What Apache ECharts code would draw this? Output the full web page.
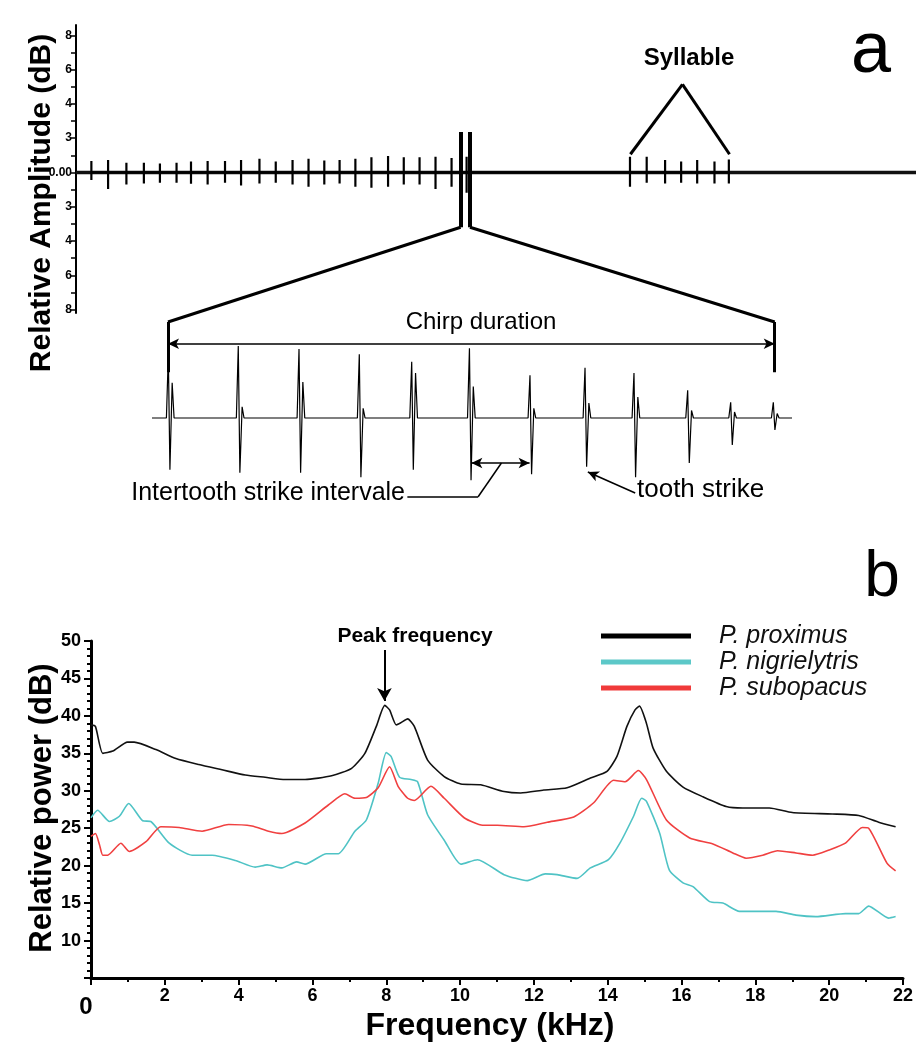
<!DOCTYPE html>
<html>
<head>
<meta charset="utf-8">
<title>chirp figure</title>
<script src="https://cdn.jsdelivr.net/npm/echarts@6/dist/echarts.min.js"></script>
<style>
  html,body{margin:0;padding:0;background:#fff;}
  #main{width:916px;height:1046px;}
</style>
</head>
<body>
<div id="main"></div>
<script>
// ---- panel a : overview oscillogram (time in arbitrary units, amplitude in axis steps)
var strikeT    = [1.83,3.82,6.0,8.08,9.99,11.97,13.69,15.67,17.74,19.65,21.84,23.78,25.78,27.68,29.56,31.38,33.26,35.17,37.15,39.02,40.9,42.8,44.71,46.5];
var strikeUp   = [0.33,0.36,0.28,0.28,0.26,0.28,0.32,0.33,0.33,0.36,0.40,0.32,0.36,0.40,0.35,0.36,0.40,0.44,0.48,0.44,0.44,0.46,0.42,0.46];
var strikeDown = [0.22,0.48,0.35,0.32,0.30,0.30,0.33,0.35,0.30,0.38,0.32,0.30,0.35,0.42,0.35,0.32,0.42,0.45,0.42,0.35,0.35,0.48,0.42,0.59];
var sylT    = [65.95,67.94,70.13,72.04,73.95,76.01,77.72];
var sylUp   = [0.46,0.46,0.36,0.32,0.36,0.32,0.38];
var sylDown = [0.42,0.30,0.32,0.30,0.32,0.32,0.32];
var ampLabels = ['8','6','4','3','0.00','3','4','6','8'];
var ampLabelVals = [-4,-3,-2,-1,0,1,2,3,4];
var ampTickVals = [-4,-3.5,-3,-2.5,-2,-1.5,-1,-0.5,0,0.5,1,1.5,2,2.5,3,3.5,4];

// ---- panel a : one chirp, enlarged
var chirpT   = [2.55,13.48,22.97,32.39,40.58,49.6,59.06,67.66,75.31,83.7,90.42,97.08];
var chirpTop = [0.84,0.96,0.92,0.85,0.75,0.93,0.57,0.67,0.6,0.37,0.21,0.21];
var chirpBot = [-0.69,-0.73,-0.73,-0.79,-0.69,-0.83,-0.75,-0.65,-0.79,-0.6,-0.36,-0.16];
var chirpRing = [0.47,0.15,0.48,0.13,0.6,0.42,0.13,0.2,0.28,0.1,0.08,0.06];

// ---- panel b : spectra
var freqBlack = [0,0.12,0.32,0.59,0.99,1.17,1.76,2.3,2.92,3.55,4.18,4.72,5.26,5.8,6.52,7.06,7.42,7.73,7.96,8.09,8.27,8.4,8.58,8.76,9.12,9.57,10.02,10.56,11.19,11.64,12.27,12.9,13.53,13.98,14.25,14.52,14.74,14.86,15.05,15.23,15.59,16.04,16.58,17.21,17.66,18.38,19.0,20.08,20.8,21.34,21.8];
var powBlack  = [38.8,38.6,35.0,35.3,36.5,36.5,35.5,34.3,33.5,32.8,32.1,31.8,31.5,31.5,32.0,33.0,35.0,38.6,41.4,40.8,38.8,39.1,39.6,38.6,34.1,31.9,30.9,30.8,29.9,29.7,30.1,30.4,31.7,32.6,34.6,38.6,40.8,41.3,39.0,35.7,32.6,30.5,29.2,27.9,27.7,27.7,27.1,26.9,26.7,25.8,25.2];
var freqCyan = [0,0.18,0.5,0.77,1.02,1.4,1.62,2.12,2.74,3.28,3.91,4.45,4.77,5.17,5.57,5.8,6.38,6.7,7.15,7.46,7.78,8.0,8.13,8.36,8.67,8.85,9.12,9.57,10.02,10.47,11.19,11.82,12.31,12.63,13.17,13.53,14.02,14.33,14.7,14.92,15.05,15.41,15.67,16.04,16.31,16.76,17.12,17.57,18.56,19.1,19.64,20.44,20.8,21.07,21.61,21.8];
var powCyan  = [26.4,27.4,25.9,26.6,28.3,26.0,25.9,23.0,21.4,21.4,20.7,19.8,20.1,19.7,20.5,20.2,21.6,21.6,24.6,26.1,31.0,35.1,34.6,31.8,31.5,31.2,26.8,23.4,20.2,20.8,18.8,18.0,18.9,18.8,18.3,19.7,20.8,23.0,26.6,29.0,28.6,24.3,19.4,17.7,17.2,15.2,15.0,13.9,13.9,13.4,13.2,13.6,13.6,14.6,13.0,13.2];
var freqRed = [0,0.12,0.23,0.32,0.45,0.81,1.04,1.49,1.89,2.39,3.01,3.73,4.36,4.81,5.17,5.8,6.43,6.88,7.15,7.46,7.78,8.09,8.32,8.58,8.76,9.21,9.57,10.11,10.61,11.01,11.73,12.36,13.08,13.62,14.16,14.47,14.83,15.05,15.59,16.22,16.85,17.39,17.75,18.2,18.6,19.1,19.55,20.0,20.44,20.9,21.07,21.57,21.8];
var powRed  = [23.9,24.3,22.8,21.4,21.4,23.0,21.9,23.2,25.2,25.1,24.6,25.5,25.3,24.6,24.3,25.7,28.1,29.6,29.0,29.1,30.4,33.2,30.6,29.0,28.7,30.6,29.0,26.4,25.4,25.4,25.2,25.8,26.5,28.4,31.4,31.2,32.7,31.5,26.1,23.7,22.9,21.7,21.0,21.4,22.0,21.7,21.4,22.1,23.0,25.1,25.0,20.3,19.3];
var speciesNames = ['P. proximus','P. nigrielytris','P. subopacus'];

function pairs(xs, ys){
    return xs.map(function(x,i){ return [x, ys[i]]; });
}

// spikes as vertical strokes over the baseline
var overviewData = [];
function addStrikes(ts, ups, downs){
    for (var i = 0; i < ts.length; i++) {
        overviewData.push([ts[i],0],[ts[i],ups[i]],[ts[i],-downs[i]],[ts[i],0]);
    }
}
addStrikes(strikeT, strikeUp, strikeDown);
addStrikes(sylT, sylUp, sylDown);

var chirpData = [[0,0]];
for (var i = 0; i < chirpT.length; i++) {
    var t = chirpT[i];
    chirpData.push([t-0.3,0],[t,chirpTop[i]],[t+0.25,chirpBot[i]],[t+0.6,chirpRing[i]],[t+0.9,0]);
}
chirpData.push([100,0]);

var FONT = 'Liberation Sans, Arial, sans-serif';
var NARROW = 'Liberation Sans Narrow, Liberation Sans, Arial, sans-serif';

function seg(a, b, extra){
    var s = [{coord:a},{coord:b}];
    if (extra) { s[0] = Object.assign({}, s[0], extra[0]); s[1] = Object.assign({}, s[1], extra[1]); }
    return s;
}

var myChart = echarts.init(document.getElementById('main'), null, {renderer:'canvas'});

var option = {
    animation: false,
    backgroundColor: '#fff',
    grid: [
        {left: 76, top: 25, width: 840, height: 288},
        {left: 152, top: 313, width: 640, height: 195},
        {left: 91, top: 641, width: 816, height: 337}
    ],
    xAxis: [
        {gridIndex:0, type:'value', min:0, max:100, show:false},
        {gridIndex:1, type:'value', min:0, max:100, show:false},
        {gridIndex:2, type:'value', min:0, max:22, interval:2,
            axisLine:{show:true, onZero:false, lineStyle:{color:'#000', width:3}},
            axisTick:{show:true, length:7, lineStyle:{color:'#000', width:2}},
            minorTick:{show:true, splitNumber:2, length:4, lineStyle:{color:'#000', width:2}},
            splitLine:{show:false},
            axisLabel:{color:'#000', fontFamily:NARROW, fontWeight:'bold', fontSize:18, margin:9,
                showMinLabel:true, showMaxLabel:true,
                formatter:function(v){ return v === 0 ? '{z|0}' : String(v); },
                rich:{z:{fontSize:24, fontWeight:'bold', fontFamily:FONT, color:'#000', padding:[8,10,0,0]}}}
        }
    ],
    yAxis: [
        {gridIndex:0, type:'value', min:-4.1, max:4.3,
            axisLine:{show:true, lineStyle:{color:'#000', width:2}},
            axisTick:{show:true, length:5, customValues:ampTickVals, lineStyle:{color:'#000', width:1.5}},
            splitLine:{show:false},
            axisLabel:{customValues:ampLabelVals, color:'#000', fontFamily:NARROW, fontWeight:'bold', fontSize:12, margin:4,
                formatter:function(v){ return ampLabels[Math.round(v)+4]; }}
        },
        {gridIndex:1, type:'value', min:-1.2, max:1.4, show:false},
        {gridIndex:2, type:'value', min:5, max:50, interval:5,
            axisLine:{show:true, onZero:false, lineStyle:{color:'#000', width:3}},
            axisTick:{show:true, length:7, lineStyle:{color:'#000', width:2}},
            minorTick:{show:true, splitNumber:5, length:4, lineStyle:{color:'#000', width:2}},
            splitLine:{show:false},
            axisLabel:{color:'#000', fontFamily:NARROW, fontWeight:'bold', fontSize:18, margin:10,
                formatter:function(v){ return v === 5 ? '' : String(v); }}
        }
    ],
    legend: {
        data: speciesNames,
        orient: 'vertical',
        left: 596, top: 618,
        itemWidth: 90, itemHeight: 5, itemGap: 0,
        icon: 'rect',
        selectedMode: false,
        textStyle:{fontFamily:FONT, fontStyle:'italic', fontSize:25, color:'#111', lineHeight:26, padding:[0,0,0,23]}
    },
    series: [
        {   // baseline of the overview trace
            type:'line', xAxisIndex:0, yAxisIndex:0, data:[[0,0],[100,0]],
            showSymbol:false, silent:true, lineStyle:{color:'#111', width:3.5}
        },
        {
            type:'line', xAxisIndex:0, yAxisIndex:0, data:overviewData,
            showSymbol:false, silent:true, lineStyle:{color:'#000', width:2.2},
            markLine:{
                silent:true, symbol:'none', animation:false, label:{show:false},
                lineStyle:{color:'#000', type:'solid', width:4},
                data:[
                    seg([45.79,1.18],[45.79,-1.6]),
                    seg([46.9,1.18],[46.9,-1.6]),
                    seg([66.0,0.53],[72.2,2.57], [{lineStyle:{width:3}},{}]),
                    seg([72.2,2.57],[77.8,0.53], [{lineStyle:{width:3}},{}])
                ]
            }
        },
        {
            type:'line', xAxisIndex:1, yAxisIndex:1, data:chirpData,
            showSymbol:false, silent:true, lineStyle:{color:'#000', width:1.2},
            markLine:{
                silent:true, symbol:'none', symbolSize:[8,11], animation:false, label:{show:false},
                lineStyle:{color:'#000', type:'solid', width:1.5},
                data:[
                    seg([2.5,1.28],[2.5,0.61], [{lineStyle:{width:3}},{}]),
                    seg([97.3,1.28],[97.3,0.61], [{lineStyle:{width:3}},{}]),
                    seg([2.5,0.99],[97.3,0.99], [{symbol:'arrow'},{symbol:'arrow'}]),
                    seg([49.9,-0.6],[59.0,-0.6], [{symbol:'arrow'},{symbol:'arrow'}]),
                    seg([54.6,-0.6],[50.96,-1.05]),
                    seg([50.96,-1.05],[39.9,-1.05]),
                    seg([75.5,-1.0],[68.1,-0.72], [{symbol:'none'},{symbol:'arrow'}])
                ]
            }
        },
        {
            name:speciesNames[0], type:'line', xAxisIndex:2, yAxisIndex:2,
            data:pairs(freqBlack, powBlack), showSymbol:false, smooth:0.2, color:'#000',
            lineStyle:{color:'#111', width:1.6},
            markLine:{
                silent:true, symbol:['none','arrow'], symbolSize:[11,13], animation:false, label:{show:false},
                lineStyle:{color:'#000', type:'solid', width:2},
                data:[ seg([7.95,48.8],[7.95,42.0]) ]
            }
        },
        {
            name:speciesNames[1], type:'line', xAxisIndex:2, yAxisIndex:2,
            data:pairs(freqCyan, powCyan), showSymbol:false, smooth:0.2, color:'#5cc8c8',
            lineStyle:{color:'#4fc3c5', width:1.6}
        },
        {
            name:speciesNames[2], type:'line', xAxisIndex:2, yAxisIndex:2,
            data:pairs(freqRed, powRed), showSymbol:false, smooth:0.2, color:'#f03a3a',
            lineStyle:{color:'#f04040', width:1.6}
        }
    ]
};
myChart.setOption(option);

// annotations: zoom lines from the overview to the enlarged chirp, and texts
var pA1 = myChart.convertToPixel({xAxisIndex:0, yAxisIndex:0}, [45.79,-1.6]);
var pA2 = myChart.convertToPixel({xAxisIndex:0, yAxisIndex:0}, [46.9,-1.6]);
var pB1 = myChart.convertToPixel({xAxisIndex:1, yAxisIndex:1}, [2.5,1.28]);
var pB2 = myChart.convertToPixel({xAxisIndex:1, yAxisIndex:1}, [97.3,1.28]);

function txt(x, y, s, font, align){
    return {type:'text', x:x, y:y, silent:true,
        style:{text:s, font:font, fill:'#000', align:align || 'center', verticalAlign:'middle'}};
}

myChart.setOption({
    graphic: [
        {type:'line', silent:true, shape:{x1:pA1[0], y1:pA1[1], x2:pB1[0], y2:pB1[1]}, style:{stroke:'#000', lineWidth:3}},
        {type:'line', silent:true, shape:{x1:pA2[0], y1:pA2[1], x2:pB2[0], y2:pB2[1]}, style:{stroke:'#000', lineWidth:3}},
        txt(871, 52, 'a', '72px ' + FONT),
        txt(882, 578, 'b', '64px ' + FONT),
        txt(689, 58, 'Syllable', 'bold 24px ' + FONT),
        txt(481, 322, 'Chirp duration', '24px ' + FONT),
        txt(405, 493, 'Intertooth strike intervale', '25px ' + FONT, 'right'),
        txt(637, 490, 'tooth strike', '26px ' + FONT, 'left'),
        txt(415, 636, 'Peak frequency', 'bold 21px ' + FONT),
        txt(490, 1026, 'Frequency (kHz)', 'bold 32px ' + FONT),
        {type:'text', x:42, y:203, rotation:Math.PI/2, silent:true,
            style:{text:'Relative Amplitude (dB)', font:'bold 30px ' + FONT, fill:'#000', align:'center', verticalAlign:'middle'}},
        {type:'text', x:42, y:808, rotation:Math.PI/2, silent:true,
            style:{text:'Relative power (dB)', font:'bold 31px ' + FONT, fill:'#000', align:'center', verticalAlign:'middle'}}
    ]
});
</script>
</body>
</html>
